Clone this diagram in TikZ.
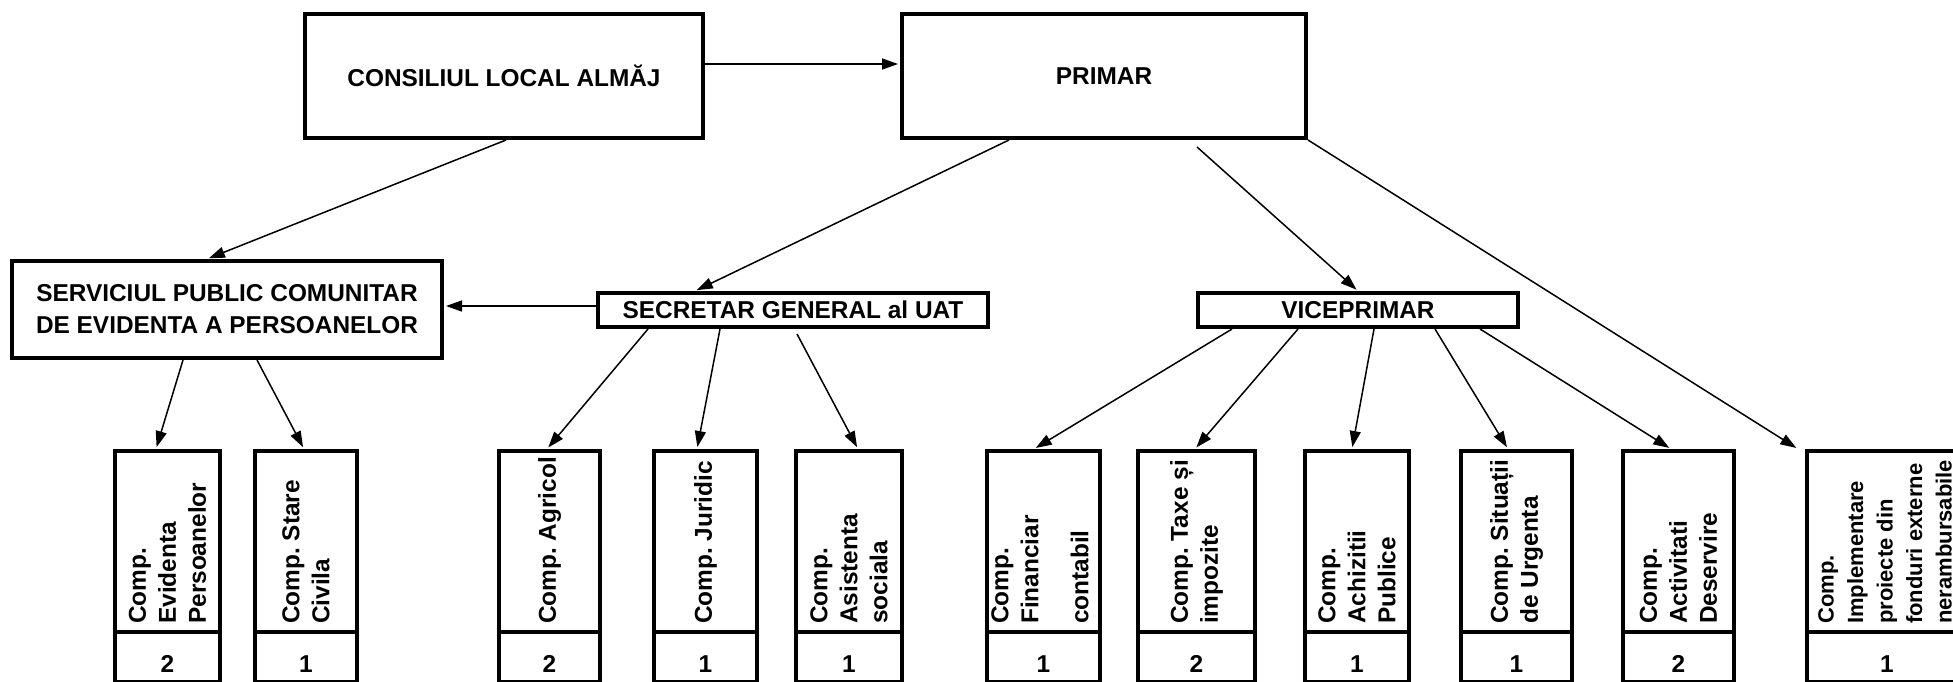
\documentclass[tikz,border=0pt]{standalone}
\usepackage{fontspec}
\setmainfont{Liberation Sans}
\usetikzlibrary{arrows.meta,calc}
\frenchspacing
\begin{document}
\begin{tikzpicture}[x=1pt,y=-1pt,
  box/.style={draw, line width=4pt, inner sep=0pt, align=center,
    font=\bfseries\fontsize{24.4}{32}\selectfont},
  cbox/.style={draw, line width=4pt, inner sep=0pt},
  arr/.style={line width=1.5pt, shorten >=2pt, -{Triangle[length=16pt,width=11pt]}},
  lab/.style={rotate=90, anchor=west, inner sep=0pt, align=left,
    font=\bfseries\fontsize{24.4}{30}\selectfont},
  labs/.style={rotate=90, anchor=west, inner sep=0pt, align=left,
    font=\bfseries\fontsize{22}{29.5}\selectfont},
  num/.style={inner sep=0pt, font=\bfseries\fontsize{24.4}{30}\selectfont}]
\useasboundingbox (0,0) rectangle (1953,681);

% top level
\node[box, minimum width=398pt, minimum height=124pt] (consiliul) at (504,76) {CONSILIUL LOCAL ALMĂJ};
\node[box, minimum width=404pt, minimum height=124pt] (primar) at (1104,76) {PRIMAR};
\node[box, minimum width=430pt, minimum height=97pt] (serviciul) at (227,309.5) {SERVICIUL PUBLIC COMUNITAR\\DE EVIDENTA A PERSOANELOR};
\node[box, minimum width=390pt, minimum height=34pt] (secretar) at (793,310) {SECRETAR GENERAL al UAT};
\node[box, minimum width=320pt, minimum height=34pt] (viceprimar) at (1358,310) {VICEPRIMAR};

% bottom compartments
\node[cbox, minimum width=105pt, minimum height=181pt] (b1) at (167.5,541.5) {};
\node[cbox, minimum width=105pt, minimum height=50pt] (n1) at (167.5,657) {};
\node[lab] (t1) at (167.5,624) {Comp.\\Evidenta\\Persoanelor};
\node[num] (v1) at (167.5,664) {2};

\node[cbox, minimum width=102pt, minimum height=181pt] (b2) at (306,541.5) {};
\node[cbox, minimum width=102pt, minimum height=50pt] (n2) at (306,657) {};
\node[lab] (t2) at (306,624) {Comp. Stare\\Civila};
\node[num] (v2) at (306,664) {1};

\node[cbox, minimum width=101pt, minimum height=181pt] (b3) at (549.5,541.5) {};
\node[cbox, minimum width=101pt, minimum height=50pt] (n3) at (549.5,657) {};
\node[lab] (t3) at (549.5,624) {Comp. Agricol};
\node[num] (v3) at (549.5,664) {2};

\node[cbox, minimum width=103pt, minimum height=181pt] (b4) at (705.5,541.5) {};
\node[cbox, minimum width=103pt, minimum height=50pt] (n4) at (705.5,657) {};
\node[lab] (t4) at (705.5,624) {Comp. Juridic};
\node[num] (v4) at (705.5,664) {1};

\node[cbox, minimum width=106pt, minimum height=181pt] (b5) at (849,541.5) {};
\node[cbox, minimum width=106pt, minimum height=50pt] (n5) at (849,657) {};
\node[lab] (t5) at (849,624) {Comp.\\Asistenta\\sociala};
\node[num] (v5) at (849,664) {1};

\node[cbox, minimum width=113pt, minimum height=181pt] (b6) at (1043.5,541.5) {};
\node[cbox, minimum width=113pt, minimum height=50pt] (n6) at (1043.5,657) {};
\node[lab] (t6) at (1040,624) {Comp.\\Financiar\\[20pt]contabil};
\node[num] (v6) at (1043.5,664) {1};

\node[cbox, minimum width=117pt, minimum height=181pt] (b7) at (1196.5,541.5) {};
\node[cbox, minimum width=117pt, minimum height=50pt] (n7) at (1196.5,657) {};
\node[lab] (t7) at (1196.5,624) {Comp. Taxe și\\impozite};
\node[num] (v7) at (1196.5,664) {2};

\node[cbox, minimum width=104pt, minimum height=181pt] (b8) at (1357,541.5) {};
\node[cbox, minimum width=104pt, minimum height=50pt] (n8) at (1357,657) {};
\node[lab] (t8) at (1357,624) {Comp.\\Achizitii\\Publice};
\node[num] (v8) at (1357,664) {1};

\node[cbox, minimum width=111pt, minimum height=181pt] (b9) at (1516.5,541.5) {};
\node[cbox, minimum width=111pt, minimum height=50pt] (n9) at (1516.5,657) {};
\node[lab] (t9) at (1516.5,624) {Comp. Situații\\de Urgenta};
\node[num] (v9) at (1516.5,664) {1};

\node[cbox, minimum width=111pt, minimum height=181pt] (b10) at (1678.5,541.5) {};
\node[cbox, minimum width=111pt, minimum height=50pt] (n10) at (1678.5,657) {};
\node[lab] (t10) at (1678.5,624) {Comp.\\Activitati\\Deservire};
\node[num] (v10) at (1678.5,664) {2};

\node[cbox, minimum width=160pt, minimum height=181pt] (b11) at (1887,541.5) {};
\node[cbox, minimum width=160pt, minimum height=50pt] (n11) at (1887,657) {};
\node[labs] (t11) at (1885,624) {Comp.\\Implementare\\proiecte din\\fonduri externe\\nerambursabile};
\node[num] (v11) at (1887,664) {1};

% connectors
\draw[arr] ([yshift=12pt]consiliul.east) -- ([yshift=12pt]primar.west);
\draw[arr] ([xshift=2pt]consiliul.south) -- ([xshift=-20pt]serviciul.north);
\draw[arr] ([xshift=-95pt]primar.south) -- ([xshift=-98pt]secretar.north);
\draw[arr] ([xshift=93pt,yshift=-7pt]primar.south) -- (viceprimar.north);
\draw[arr] (primar.south east) -- ([xshift=-7pt]b11.north west);
\draw[arr] ([yshift=4pt]secretar.west) -- ([yshift=3.5pt]serviciul.east);

\draw[arr] ([xshift=-44pt]serviciul.south) -- ([xshift=-11.5pt]b1.north);
\draw[arr] ([xshift=30pt]serviciul.south) -- ([xshift=-2pt]b2.north);

\draw[arr] ([xshift=-145pt]secretar.south) -- ([xshift=-2.5pt]b3.north);
\draw[arr] ([xshift=-73pt]secretar.south) -- ([xshift=-8.5pt]b4.north);
\draw[arr] ([xshift=4pt,yshift=-5pt]secretar.south) -- ([xshift=9pt]b5.north);

\draw[arr] ([xshift=-126pt]viceprimar.south) -- ([xshift=-9.5pt]b6.north);
\draw[arr] ([xshift=-60pt]viceprimar.south) -- ([xshift=-1.5pt]b7.north);
\draw[arr] ([xshift=16pt]viceprimar.south) -- ([xshift=-5pt]b8.north);
\draw[arr] ([xshift=77pt]viceprimar.south) -- ([xshift=-8.5pt]b9.north);
\draw[arr] ([xshift=122pt]viceprimar.south) -- ([xshift=-7.5pt]b10.north);
\end{tikzpicture}
\end{document}
